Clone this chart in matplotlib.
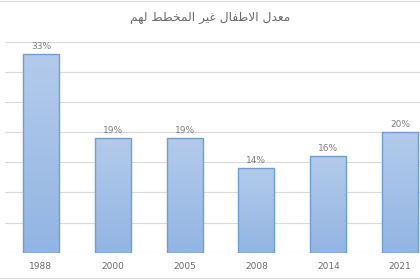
import numpy as np
import matplotlib.pyplot as plt
from matplotlib.colors import LinearSegmentedColormap

years = ['1988', '2000', '2005', '2008', '2014', '2021']
rates = [33, 19, 19, 14, 16, 20]
title = 'معدل الاطفال غير المخطط لهم'

# isolated, final, initial, medial (presentation forms)
FORMS = {
    'ا': ('\uFE8D', '\uFE8E', None, None),
    'د': ('\uFEA9', '\uFEAA', None, None),
    'ر': ('\uFEAD', '\uFEAE', None, None),
    'ل': ('\uFEDD', '\uFEDE', '\uFEDF', '\uFEE0'),
    'م': ('\uFEE1', '\uFEE2', '\uFEE3', '\uFEE4'),
    'ع': ('\uFEC9', '\uFECA', '\uFECB', '\uFECC'),
    'غ': ('\uFECD', '\uFECE', '\uFECF', '\uFED0'),
    'ط': ('\uFEC1', '\uFEC2', '\uFEC3', '\uFEC4'),
    'ف': ('\uFED1', '\uFED2', '\uFED3', '\uFED4'),
    'ي': ('\uFEF1', '\uFEF2', '\uFEF3', '\uFEF4'),
    'خ': ('\uFEA5', '\uFEA6', '\uFEA7', '\uFEA8'),
    'ه': ('\uFEE9', '\uFEEA', '\uFEEB', '\uFEEC'),
}


def shape(text):
    # minimal arabic shaping, then reverse for left-to-right drawing
    out = []
    i = 0
    while i < len(text):
        c = text[i]
        if c not in FORMS:
            out.append(c)
            i += 1
            continue
        prev = text[i - 1] if i > 0 else ' '
        joins_prev = prev in FORMS and FORMS[prev][2] is not None
        if c == 'ل' and i + 1 < len(text) and text[i + 1] == 'ا':
            out.append('\uFEFC' if joins_prev else '\uFEFB')
            i += 2
            continue
        nxt = text[i + 1] if i + 1 < len(text) else ' '
        joins_next = FORMS[c][2] is not None and nxt in FORMS
        iso, fin, ini, med = FORMS[c]
        if joins_prev and joins_next:
            out.append(med)
        elif joins_prev:
            out.append(fin)
        elif joins_next:
            out.append(ini)
        else:
            out.append(iso)
        i += 1
    return ''.join(out[::-1])


fig = plt.figure(figsize=(4.2, 2.8), dpi=100)
ax = fig.add_axes([5 / 420, 27.3 / 280, 431 / 420, 211 / 280])

x = np.arange(len(years))
bars = ax.bar(x, rates, width=0.5, color='none', edgecolor='#6A9FDB', linewidth=1.0, zorder=3)

cmap = LinearSegmentedColormap.from_list('g', ['#92B5E3', '#B3CBEB'])
grad = np.linspace(0, 1, 100).reshape(-1, 1)
for b in bars:
    x0, w, h = b.get_x(), b.get_width(), b.get_height()
    im = ax.imshow(grad, cmap=cmap, origin='lower', aspect='auto',
                   extent=[x0, x0 + w, 0, h], zorder=2)
    im.set_clip_path(b)
    ax.text(x0 + w / 2, h + 0.5, f'{h}%', ha='center', va='bottom',
            fontsize=6.5, color='#7F7F7F')

ax.set_xlim(-0.5, 5.5)
ax.set_ylim(0, 35)
ax.set_yticks(np.arange(0, 36, 5))
ax.yaxis.grid(True, color='#D9D9D9', linewidth=0.8)
ax.set_axisbelow(True)
ax.tick_params(axis='y', left=False, labelleft=False)
ax.set_xticks(x)
ax.set_xticklabels(years, fontsize=6.5, color='#6B6B6B')
ax.tick_params(axis='x', length=0, pad=7)
for s in ax.spines.values():
    s.set_visible(False)

fig.text(0.5, 1 - 18 / 280, shape(title), ha='center', va='center',
         fontsize=8.8, color='#6B6B6B', family='DejaVu Sans')
fig.add_artist(plt.Line2D([0, 1], [1 - 1 / 280, 1 - 1 / 280], color='#D9D9D9', lw=0.8))
fig.add_artist(plt.Line2D([0, 1], [2 / 280, 2 / 280], color='#D9D9D9', lw=0.8))

fig.savefig('out.png', dpi=100)
